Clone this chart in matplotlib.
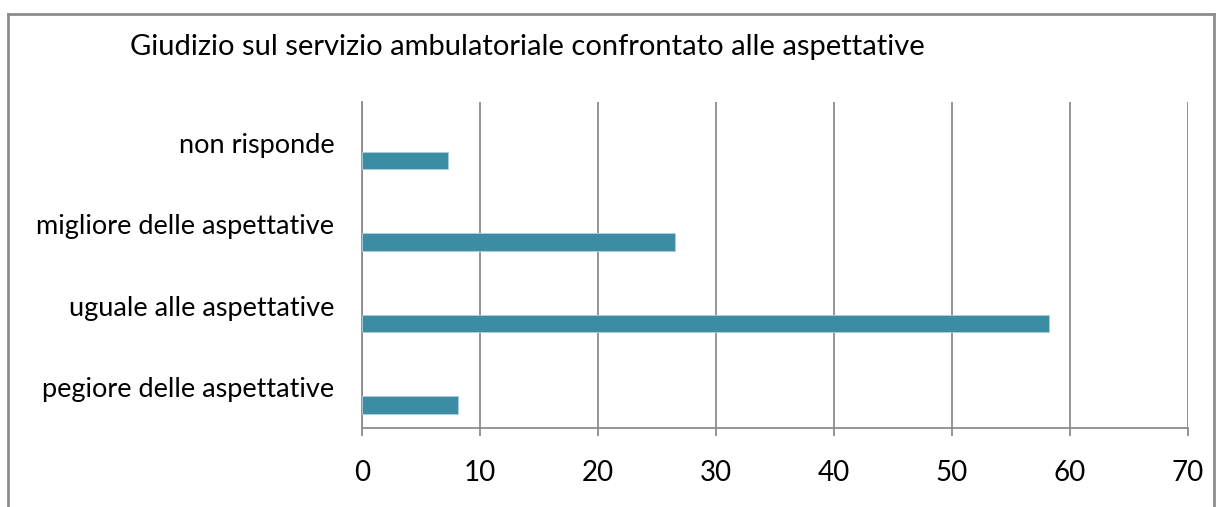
import numpy as np
import matplotlib.pyplot as plt
from matplotlib.lines import Line2D

plt.rcParams['font.family'] = ['Lato', 'DejaVu Sans']

# data (bottom to top)
categories = ['pegiore delle aspettative', 'uguale alle aspettative',
              'migliore delle aspettative', 'non risponde']
values = [8.1, 58.2, 26.5, 7.3]
xticks = [0, 10, 20, 30, 40, 50, 60, 70]
title = 'Giudizio sul servizio ambulatoriale confrontato alle aspettative'

grey = '#8c8c8c'
bar_col = '#3c8ca3'

fig = plt.figure(figsize=(12.22, 5.07), dpi=100)
ax = fig.add_axes([362/1222, 1-428/507, 826/1222, 326/507])

y = np.arange(len(categories))
ax.barh(y - 0.215, values, height=0.215, color=bar_col,
        edgecolor='#a9d0dc', linewidth=0.6, zorder=3)

ax.set_xlim(0, 70)
ax.set_ylim(-0.5, len(categories) - 0.5)
ax.set_xticks(xticks)
ax.set_yticks(y)
ax.set_yticklabels(categories)
ax.grid(axis='x', color=grey, linewidth=1.3, zorder=0)
ax.tick_params(axis='x', length=6, width=1.3, color=grey, pad=17, labelsize=20)
ax.tick_params(axis='y', length=0, pad=20, labelsize=19.5)
for s in ['top', 'right']:
    ax.spines[s].set_visible(False)
for s in ['left', 'bottom']:
    ax.spines[s].set_color(grey)
    ax.spines[s].set_linewidth(1.3)

fig.text(130/1222, 1-47/507, title, fontsize=21, va='center', ha='left')

# outer chart frame (cut at bottom)
fx0, fx1, fy1 = 8/1222, 1214/1222, 1-13.5/507
for xs, ys in [([fx0, fx0], [-0.1, fy1]), ([fx0, fx1], [fy1, fy1]), ([fx1, fx1], [fy1, -0.1])]:
    fig.add_artist(Line2D(xs, ys, color=grey, linewidth=2, transform=fig.transFigure))

fig.savefig('out.png', dpi=100)
